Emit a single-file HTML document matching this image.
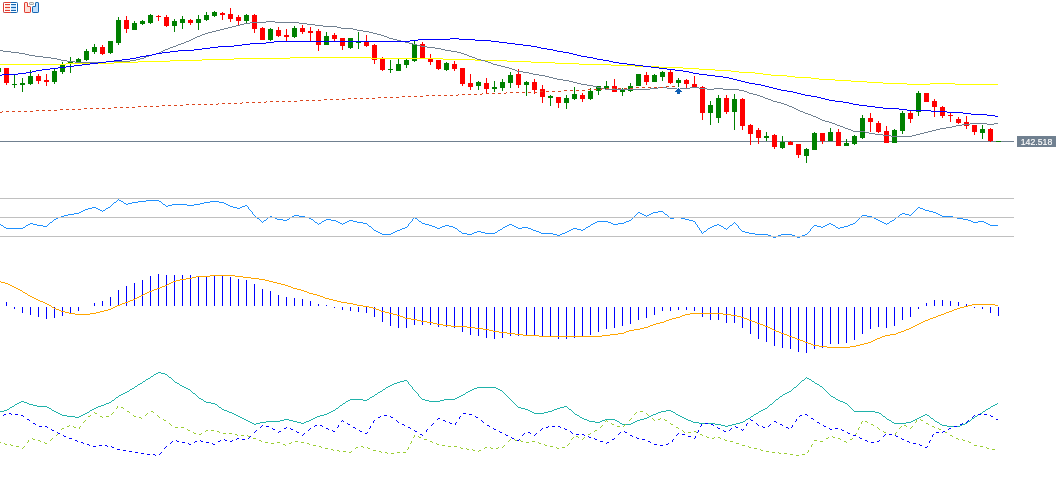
<!DOCTYPE html>
<html><head><meta charset="utf-8"><title>Chart</title>
<style>html,body{margin:0;padding:0;background:#fff;}body{width:1063px;height:485px;overflow:hidden;font-family:"Liberation Sans",sans-serif;}svg{display:block;}</style></head><body>
<svg width="1063" height="485" viewBox="0 0 1063 485">
<rect width="1063" height="485" fill="#fff"/>
<g shape-rendering="crispEdges">
<rect x="0" y="141" width="1014" height="1" fill="#708090"/>
</g>
<g shape-rendering="crispEdges">
<rect x="0" y="68" width="1" height="4" fill="#008000"/>
<rect x="6" y="68" width="1" height="17" fill="#ff0000"/>
<rect x="4" y="68" width="5" height="15" fill="#ff0000"/>
<rect x="14" y="75" width="1" height="13" fill="#008000"/>
<rect x="12" y="84" width="5" height="1" fill="#008000"/>
<rect x="22" y="78" width="1" height="14" fill="#008000"/>
<rect x="20" y="83" width="5" height="2" fill="#008000"/>
<rect x="30" y="70" width="1" height="15" fill="#008000"/>
<rect x="28" y="76" width="5" height="8" fill="#008000"/>
<rect x="38" y="74" width="1" height="10" fill="#ff0000"/>
<rect x="36" y="76" width="5" height="5" fill="#ff0000"/>
<rect x="46" y="74" width="1" height="12" fill="#ff0000"/>
<rect x="44" y="80" width="5" height="2" fill="#ff0000"/>
<rect x="54" y="69" width="1" height="15" fill="#008000"/>
<rect x="52" y="71" width="5" height="11" fill="#008000"/>
<rect x="62" y="62" width="1" height="12" fill="#008000"/>
<rect x="60" y="65" width="5" height="7" fill="#008000"/>
<rect x="70" y="57" width="1" height="16" fill="#008000"/>
<rect x="68" y="61" width="5" height="3" fill="#008000"/>
<rect x="78" y="58" width="1" height="6" fill="#008000"/>
<rect x="76" y="59" width="5" height="3" fill="#008000"/>
<rect x="86" y="49" width="1" height="12" fill="#008000"/>
<rect x="84" y="51" width="5" height="9" fill="#008000"/>
<rect x="94" y="44" width="1" height="10" fill="#008000"/>
<rect x="92" y="47" width="5" height="5" fill="#008000"/>
<rect x="102" y="45" width="1" height="10" fill="#ff0000"/>
<rect x="100" y="47" width="5" height="7" fill="#ff0000"/>
<rect x="110" y="41" width="1" height="13" fill="#008000"/>
<rect x="108" y="41" width="5" height="12" fill="#008000"/>
<rect x="118" y="17" width="1" height="28" fill="#008000"/>
<rect x="116" y="20" width="5" height="23" fill="#008000"/>
<rect x="126" y="16" width="1" height="17" fill="#ff0000"/>
<rect x="124" y="20" width="5" height="9" fill="#ff0000"/>
<rect x="134" y="21" width="1" height="9" fill="#008000"/>
<rect x="132" y="23" width="5" height="7" fill="#008000"/>
<rect x="142" y="20" width="1" height="5" fill="#008000"/>
<rect x="140" y="21" width="5" height="3" fill="#008000"/>
<rect x="150" y="14" width="1" height="10" fill="#008000"/>
<rect x="148" y="15" width="5" height="8" fill="#008000"/>
<rect x="158" y="15" width="1" height="6" fill="#ff0000"/>
<rect x="156" y="16" width="5" height="1" fill="#ff0000"/>
<rect x="166" y="15" width="1" height="12" fill="#ff0000"/>
<rect x="164" y="17" width="5" height="9" fill="#ff0000"/>
<rect x="174" y="19" width="1" height="13" fill="#008000"/>
<rect x="172" y="21" width="5" height="5" fill="#008000"/>
<rect x="182" y="16" width="1" height="13" fill="#008000"/>
<rect x="180" y="19" width="5" height="4" fill="#008000"/>
<rect x="190" y="19" width="1" height="6" fill="#ff0000"/>
<rect x="188" y="20" width="5" height="3" fill="#ff0000"/>
<rect x="198" y="15" width="1" height="15" fill="#008000"/>
<rect x="196" y="19" width="5" height="4" fill="#008000"/>
<rect x="206" y="12" width="1" height="9" fill="#008000"/>
<rect x="204" y="15" width="5" height="5" fill="#008000"/>
<rect x="214" y="11" width="1" height="6" fill="#008000"/>
<rect x="212" y="12" width="5" height="4" fill="#008000"/>
<rect x="222" y="12" width="1" height="8" fill="#ff0000"/>
<rect x="220" y="13" width="5" height="2" fill="#ff0000"/>
<rect x="230" y="8" width="1" height="14" fill="#ff0000"/>
<rect x="228" y="14" width="5" height="5" fill="#ff0000"/>
<rect x="238" y="15" width="1" height="10" fill="#ff0000"/>
<rect x="236" y="17" width="5" height="4" fill="#ff0000"/>
<rect x="246" y="14" width="1" height="9" fill="#008000"/>
<rect x="244" y="15" width="5" height="6" fill="#008000"/>
<rect x="254" y="14" width="1" height="19" fill="#ff0000"/>
<rect x="252" y="15" width="5" height="14" fill="#ff0000"/>
<rect x="262" y="27" width="1" height="13" fill="#ff0000"/>
<rect x="260" y="28" width="5" height="12" fill="#ff0000"/>
<rect x="270" y="28" width="1" height="13" fill="#008000"/>
<rect x="268" y="29" width="5" height="11" fill="#008000"/>
<rect x="278" y="27" width="1" height="10" fill="#ff0000"/>
<rect x="276" y="30" width="5" height="6" fill="#ff0000"/>
<rect x="286" y="29" width="1" height="12" fill="#ff0000"/>
<rect x="284" y="35" width="5" height="2" fill="#ff0000"/>
<rect x="294" y="26" width="1" height="12" fill="#008000"/>
<rect x="292" y="28" width="5" height="9" fill="#008000"/>
<rect x="302" y="25" width="1" height="9" fill="#ff0000"/>
<rect x="300" y="28" width="5" height="4" fill="#ff0000"/>
<rect x="310" y="27" width="1" height="14" fill="#ff0000"/>
<rect x="308" y="31" width="5" height="2" fill="#ff0000"/>
<rect x="318" y="29" width="1" height="22" fill="#ff0000"/>
<rect x="316" y="31" width="5" height="14" fill="#ff0000"/>
<rect x="326" y="32" width="1" height="13" fill="#008000"/>
<rect x="324" y="36" width="5" height="9" fill="#008000"/>
<rect x="334" y="33" width="1" height="8" fill="#ff0000"/>
<rect x="332" y="35" width="5" height="4" fill="#ff0000"/>
<rect x="342" y="38" width="1" height="12" fill="#ff0000"/>
<rect x="340" y="38" width="5" height="8" fill="#ff0000"/>
<rect x="350" y="38" width="1" height="11" fill="#008000"/>
<rect x="348" y="38" width="5" height="10" fill="#008000"/>
<rect x="358" y="32" width="1" height="17" fill="#008000"/>
<rect x="356" y="42" width="5" height="1" fill="#008000"/>
<rect x="366" y="35" width="1" height="12" fill="#ff0000"/>
<rect x="364" y="41" width="5" height="5" fill="#ff0000"/>
<rect x="374" y="44" width="1" height="20" fill="#ff0000"/>
<rect x="372" y="45" width="5" height="15" fill="#ff0000"/>
<rect x="382" y="57" width="1" height="14" fill="#ff0000"/>
<rect x="380" y="59" width="5" height="11" fill="#ff0000"/>
<rect x="390" y="60" width="1" height="13" fill="#008000"/>
<rect x="388" y="69" width="5" height="1" fill="#008000"/>
<rect x="398" y="59" width="1" height="12" fill="#008000"/>
<rect x="396" y="64" width="5" height="7" fill="#008000"/>
<rect x="406" y="59" width="1" height="9" fill="#008000"/>
<rect x="404" y="60" width="5" height="5" fill="#008000"/>
<rect x="414" y="40" width="1" height="22" fill="#008000"/>
<rect x="412" y="44" width="5" height="17" fill="#008000"/>
<rect x="422" y="42" width="1" height="16" fill="#ff0000"/>
<rect x="420" y="44" width="5" height="14" fill="#ff0000"/>
<rect x="430" y="54" width="1" height="11" fill="#ff0000"/>
<rect x="428" y="59" width="5" height="3" fill="#ff0000"/>
<rect x="438" y="60" width="1" height="10" fill="#ff0000"/>
<rect x="436" y="60" width="5" height="9" fill="#ff0000"/>
<rect x="446" y="62" width="1" height="9" fill="#008000"/>
<rect x="444" y="63" width="5" height="7" fill="#008000"/>
<rect x="454" y="61" width="1" height="10" fill="#ff0000"/>
<rect x="452" y="64" width="5" height="5" fill="#ff0000"/>
<rect x="462" y="68" width="1" height="18" fill="#ff0000"/>
<rect x="460" y="68" width="5" height="16" fill="#ff0000"/>
<rect x="470" y="74" width="1" height="16" fill="#ff0000"/>
<rect x="468" y="83" width="5" height="4" fill="#ff0000"/>
<rect x="478" y="81" width="1" height="9" fill="#008000"/>
<rect x="476" y="82" width="5" height="4" fill="#008000"/>
<rect x="486" y="78" width="1" height="16" fill="#ff0000"/>
<rect x="484" y="83" width="5" height="6" fill="#ff0000"/>
<rect x="494" y="81" width="1" height="11" fill="#008000"/>
<rect x="492" y="87" width="5" height="2" fill="#008000"/>
<rect x="502" y="79" width="1" height="12" fill="#008000"/>
<rect x="500" y="82" width="5" height="6" fill="#008000"/>
<rect x="510" y="72" width="1" height="16" fill="#008000"/>
<rect x="508" y="75" width="5" height="8" fill="#008000"/>
<rect x="518" y="69" width="1" height="19" fill="#ff0000"/>
<rect x="516" y="74" width="5" height="11" fill="#ff0000"/>
<rect x="526" y="81" width="1" height="15" fill="#008000"/>
<rect x="524" y="82" width="5" height="3" fill="#008000"/>
<rect x="534" y="79" width="1" height="15" fill="#ff0000"/>
<rect x="532" y="82" width="5" height="8" fill="#ff0000"/>
<rect x="542" y="85" width="1" height="18" fill="#ff0000"/>
<rect x="540" y="89" width="5" height="8" fill="#ff0000"/>
<rect x="550" y="95" width="1" height="11" fill="#008000"/>
<rect x="548" y="96" width="5" height="2" fill="#008000"/>
<rect x="558" y="97" width="1" height="11" fill="#ff0000"/>
<rect x="556" y="97" width="5" height="6" fill="#ff0000"/>
<rect x="566" y="95" width="1" height="14" fill="#008000"/>
<rect x="564" y="98" width="5" height="5" fill="#008000"/>
<rect x="574" y="87" width="1" height="13" fill="#008000"/>
<rect x="572" y="94" width="5" height="5" fill="#008000"/>
<rect x="582" y="93" width="1" height="9" fill="#ff0000"/>
<rect x="580" y="95" width="5" height="4" fill="#ff0000"/>
<rect x="590" y="88" width="1" height="12" fill="#008000"/>
<rect x="588" y="91" width="5" height="8" fill="#008000"/>
<rect x="598" y="86" width="1" height="9" fill="#008000"/>
<rect x="596" y="86" width="5" height="5" fill="#008000"/>
<rect x="606" y="81" width="1" height="8" fill="#008000"/>
<rect x="604" y="86" width="5" height="3" fill="#008000"/>
<rect x="614" y="79" width="1" height="13" fill="#ff0000"/>
<rect x="612" y="86" width="5" height="6" fill="#ff0000"/>
<rect x="622" y="88" width="1" height="8" fill="#008000"/>
<rect x="620" y="90" width="5" height="2" fill="#008000"/>
<rect x="630" y="83" width="1" height="9" fill="#008000"/>
<rect x="628" y="86" width="5" height="5" fill="#008000"/>
<rect x="638" y="74" width="1" height="12" fill="#008000"/>
<rect x="636" y="74" width="5" height="12" fill="#008000"/>
<rect x="646" y="72" width="1" height="13" fill="#ff0000"/>
<rect x="644" y="75" width="5" height="7" fill="#ff0000"/>
<rect x="654" y="74" width="1" height="8" fill="#008000"/>
<rect x="652" y="75" width="5" height="7" fill="#008000"/>
<rect x="662" y="71" width="1" height="10" fill="#008000"/>
<rect x="660" y="72" width="5" height="5" fill="#008000"/>
<rect x="670" y="70" width="1" height="14" fill="#ff0000"/>
<rect x="668" y="72" width="5" height="11" fill="#ff0000"/>
<rect x="678" y="78" width="1" height="9" fill="#008000"/>
<rect x="676" y="80" width="5" height="3" fill="#008000"/>
<rect x="686" y="79" width="1" height="9" fill="#ff0000"/>
<rect x="684" y="80" width="5" height="4" fill="#ff0000"/>
<rect x="694" y="76" width="1" height="11" fill="#ff0000"/>
<rect x="692" y="84" width="5" height="3" fill="#ff0000"/>
<rect x="702" y="86" width="1" height="34" fill="#ff0000"/>
<rect x="700" y="87" width="5" height="26" fill="#ff0000"/>
<rect x="710" y="101" width="1" height="24" fill="#008000"/>
<rect x="708" y="105" width="5" height="8" fill="#008000"/>
<rect x="718" y="95" width="1" height="28" fill="#008000"/>
<rect x="716" y="98" width="5" height="20" fill="#008000"/>
<rect x="726" y="95" width="1" height="19" fill="#ff0000"/>
<rect x="724" y="98" width="5" height="14" fill="#ff0000"/>
<rect x="734" y="94" width="1" height="36" fill="#008000"/>
<rect x="732" y="99" width="5" height="13" fill="#008000"/>
<rect x="742" y="98" width="1" height="32" fill="#ff0000"/>
<rect x="740" y="99" width="5" height="27" fill="#ff0000"/>
<rect x="750" y="124" width="1" height="21" fill="#ff0000"/>
<rect x="748" y="125" width="5" height="9" fill="#ff0000"/>
<rect x="758" y="128" width="1" height="16" fill="#ff0000"/>
<rect x="756" y="130" width="5" height="8" fill="#ff0000"/>
<rect x="766" y="132" width="1" height="9" fill="#008000"/>
<rect x="764" y="136" width="5" height="2" fill="#008000"/>
<rect x="774" y="134" width="1" height="15" fill="#ff0000"/>
<rect x="772" y="135" width="5" height="12" fill="#ff0000"/>
<rect x="782" y="136" width="1" height="13" fill="#008000"/>
<rect x="780" y="142" width="5" height="6" fill="#008000"/>
<rect x="790" y="141" width="1" height="4" fill="#ff0000"/>
<rect x="788" y="142" width="5" height="3" fill="#ff0000"/>
<rect x="798" y="144" width="1" height="14" fill="#ff0000"/>
<rect x="796" y="144" width="5" height="11" fill="#ff0000"/>
<rect x="806" y="148" width="1" height="15" fill="#008000"/>
<rect x="804" y="149" width="5" height="7" fill="#008000"/>
<rect x="814" y="132" width="1" height="18" fill="#008000"/>
<rect x="812" y="133" width="5" height="17" fill="#008000"/>
<rect x="822" y="133" width="1" height="11" fill="#ff0000"/>
<rect x="820" y="133" width="5" height="8" fill="#ff0000"/>
<rect x="830" y="128" width="1" height="13" fill="#008000"/>
<rect x="828" y="132" width="5" height="9" fill="#008000"/>
<rect x="838" y="129" width="1" height="17" fill="#ff0000"/>
<rect x="836" y="132" width="5" height="14" fill="#ff0000"/>
<rect x="846" y="139" width="1" height="7" fill="#008000"/>
<rect x="844" y="143" width="5" height="3" fill="#008000"/>
<rect x="854" y="135" width="1" height="10" fill="#008000"/>
<rect x="852" y="136" width="5" height="8" fill="#008000"/>
<rect x="862" y="115" width="1" height="24" fill="#008000"/>
<rect x="860" y="118" width="5" height="20" fill="#008000"/>
<rect x="870" y="113" width="1" height="19" fill="#ff0000"/>
<rect x="868" y="118" width="5" height="4" fill="#ff0000"/>
<rect x="878" y="121" width="1" height="12" fill="#ff0000"/>
<rect x="876" y="123" width="5" height="9" fill="#ff0000"/>
<rect x="886" y="126" width="1" height="17" fill="#ff0000"/>
<rect x="884" y="131" width="5" height="12" fill="#ff0000"/>
<rect x="894" y="129" width="1" height="14" fill="#008000"/>
<rect x="892" y="130" width="5" height="13" fill="#008000"/>
<rect x="902" y="111" width="1" height="23" fill="#008000"/>
<rect x="900" y="113" width="5" height="18" fill="#008000"/>
<rect x="910" y="111" width="1" height="12" fill="#ff0000"/>
<rect x="908" y="113" width="5" height="6" fill="#ff0000"/>
<rect x="918" y="91" width="1" height="25" fill="#008000"/>
<rect x="916" y="93" width="5" height="19" fill="#008000"/>
<rect x="926" y="93" width="1" height="9" fill="#ff0000"/>
<rect x="924" y="93" width="5" height="9" fill="#ff0000"/>
<rect x="934" y="99" width="1" height="18" fill="#ff0000"/>
<rect x="932" y="101" width="5" height="6" fill="#ff0000"/>
<rect x="942" y="106" width="1" height="12" fill="#ff0000"/>
<rect x="940" y="107" width="5" height="9" fill="#ff0000"/>
<rect x="950" y="113" width="1" height="9" fill="#ff0000"/>
<rect x="948" y="115" width="5" height="1" fill="#ff0000"/>
<rect x="958" y="117" width="1" height="7" fill="#ff0000"/>
<rect x="956" y="119" width="5" height="4" fill="#ff0000"/>
<rect x="966" y="116" width="1" height="13" fill="#ff0000"/>
<rect x="964" y="122" width="5" height="4" fill="#ff0000"/>
<rect x="974" y="125" width="1" height="10" fill="#ff0000"/>
<rect x="972" y="125" width="5" height="7" fill="#ff0000"/>
<rect x="982" y="125" width="1" height="14" fill="#008000"/>
<rect x="980" y="129" width="5" height="4" fill="#008000"/>
<rect x="990" y="128" width="1" height="14" fill="#ff0000"/>
<rect x="988" y="129" width="5" height="12" fill="#ff0000"/>
<rect x="996" y="141" width="5" height="1" fill="#008000"/>
</g>
<path d="M290 57.5h81M234 58.5h56M371 58.5h72M202 59.5h32M443 59.5h32M170 60.5h32M475 60.5h32M138 61.5h32M507 61.5h24M114 62.5h24M531 62.5h24M66 63.5h48M555 63.5h24M0 64.5h66M579 64.5h32M611 65.5h24M635 66.5h24M659 67.5h24M683 68.5h16M699 69.5h16M715 70.5h16M731 71.5h8M739 72.5h16M755 73.5h8M763 74.5h8M771 75.5h16M787 76.5h8M795 77.5h16M811 78.5h8M819 79.5h16M835 80.5h16M851 81.5h16M867 82.5h16M883 83.5h24M930 83.5h25M907 84.5h23M955 84.5h43" fill="none" stroke="#ffff00" stroke-width="1" shape-rendering="crispEdges"/>
<path d="M266 21.5h9M250 22.5h16M275 22.5h24M244 23.5h6M299 23.5h8M240 24.5h4M307 24.5h8M236 25.5h4M315 25.5h8M232 26.5h4M323 26.5h14M228 27.5h4M337 27.5h4M224 28.5h4M341 28.5h12M220 29.5h4M353 29.5h4M216 30.5h4M357 30.5h6M212 31.5h4M363 31.5h6M208 32.5h4M369 32.5h4M205 33.5h3M373 33.5h4M202 34.5h3M377 34.5h4M200 35.5h2M381 35.5h3M197 36.5h3M384 36.5h3M195 37.5h2M387 37.5h2M193 38.5h2M389 38.5h4M191 39.5h2M393 39.5h4M189 40.5h2M397 40.5h4M186 41.5h3M401 41.5h4M184 42.5h2M405 42.5h4M181 43.5h3M409 43.5h4M178 44.5h3M413 44.5h4M176 45.5h2M417 45.5h4M173 46.5h3M421 46.5h6M170 47.5h3M427 47.5h8M168 48.5h2M435 48.5h6M165 49.5h3M441 49.5h4M0 50.5h3M163 50.5h2M445 50.5h6M3 51.5h8M161 51.5h2M451 51.5h6M11 52.5h8M159 52.5h2M457 52.5h4M19 53.5h6M156 53.5h3M461 53.5h3M25 54.5h4M152 54.5h4M464 54.5h3M29 55.5h6M149 55.5h3M467 55.5h2M35 56.5h8M146 56.5h3M469 56.5h3M43 57.5h8M144 57.5h2M472 57.5h3M51 58.5h6M140 58.5h4M475 58.5h2M57 59.5h4M136 59.5h4M477 59.5h4M61 60.5h6M130 60.5h6M481 60.5h4M67 61.5h8M106 61.5h24M485 61.5h3M75 62.5h31M488 62.5h3M491 63.5h2M493 64.5h4M497 65.5h4M501 66.5h4M505 67.5h4M509 68.5h3M512 69.5h3M515 70.5h2M517 71.5h6M523 72.5h6M529 73.5h4M533 74.5h6M539 75.5h6M545 76.5h4M549 77.5h4M553 78.5h4M557 79.5h6M563 80.5h6M569 81.5h4M573 82.5h4M577 83.5h4M581 84.5h6M587 85.5h6M593 86.5h4M597 87.5h4M658 87.5h9M690 87.5h9M601 88.5h4M650 88.5h8M667 88.5h23M699 88.5h8M714 88.5h9M605 89.5h45M707 89.5h7M723 89.5h16M739 90.5h5M744 91.5h3M747 92.5h2M749 93.5h4M753 94.5h4M757 95.5h3M760 96.5h3M763 97.5h2M765 98.5h3M768 99.5h3M771 100.5h2M773 101.5h4M777 102.5h4M781 103.5h3M784 104.5h3M787 105.5h2M789 106.5h3M792 107.5h2M794 108.5h2M796 109.5h2M798 110.5h2M800 111.5h3M803 112.5h2M805 113.5h3M808 114.5h3M811 115.5h2M813 116.5h3M816 117.5h2M818 118.5h2M820 119.5h2M822 120.5h3M825 121.5h4M829 122.5h3M832 123.5h3M970 123.5h17M994 123.5h4M835 124.5h2M962 124.5h8M987 124.5h7M837 125.5h3M956 125.5h6M840 126.5h3M952 126.5h4M843 127.5h2M946 127.5h6M845 128.5h3M940 128.5h6M848 129.5h3M936 129.5h4M851 130.5h2M932 130.5h4M853 131.5h12M928 131.5h4M865 132.5h4M924 132.5h4M869 133.5h6M920 133.5h4M875 134.5h8M916 134.5h4M883 135.5h8M912 135.5h4M891 136.5h21" fill="none" stroke="#708090" stroke-width="1" shape-rendering="crispEdges"/>
<path d="M666 86.5h3M672 86.5h3M636 87.5h3M642 87.5h3M648 87.5h3M654 87.5h3M660 87.5h3M602 88.5h1M606 88.5h3M612 88.5h3M618 88.5h3M624 88.5h3M630 88.5h3M588 89.5h3M594 89.5h3M600 89.5h2M564 90.5h3M570 90.5h3M576 90.5h3M582 90.5h3M540 91.5h3M546 91.5h3M552 91.5h3M558 91.5h3M506 92.5h1M510 92.5h3M516 92.5h3M522 92.5h3M528 92.5h3M534 92.5h3M482 93.5h1M486 93.5h3M492 93.5h3M498 93.5h3M504 93.5h2M458 94.5h1M462 94.5h3M468 94.5h3M474 94.5h3M480 94.5h2M426 95.5h3M432 95.5h3M438 95.5h3M444 95.5h3M450 95.5h3M456 95.5h2M402 96.5h3M408 96.5h3M414 96.5h3M420 96.5h3M378 97.5h3M384 97.5h3M390 97.5h3M396 97.5h3M348 98.5h3M354 98.5h3M360 98.5h3M366 98.5h3M372 98.5h3M324 99.5h3M330 99.5h3M336 99.5h3M342 99.5h3M300 100.5h3M306 100.5h3M312 100.5h3M318 100.5h3M266 101.5h1M270 101.5h3M276 101.5h3M282 101.5h3M288 101.5h3M294 101.5h3M242 102.5h1M246 102.5h3M252 102.5h3M258 102.5h3M264 102.5h2M218 103.5h1M222 103.5h3M228 103.5h3M234 103.5h3M240 103.5h2M186 104.5h3M192 104.5h3M198 104.5h3M204 104.5h3M210 104.5h3M216 104.5h2M162 105.5h3M168 105.5h3M174 105.5h3M180 105.5h3M138 106.5h3M144 106.5h3M150 106.5h3M156 106.5h3M114 107.5h3M120 107.5h3M126 107.5h3M132 107.5h3M84 108.5h3M90 108.5h3M96 108.5h3M102 108.5h3M108 108.5h3M60 109.5h3M66 109.5h3M72 109.5h3M78 109.5h3M36 110.5h3M42 110.5h3M48 110.5h3M54 110.5h3M2 111.5h1M6 111.5h3M12 111.5h3M18 111.5h3M24 111.5h3M30 111.5h3M0 112.5h2" fill="none" stroke="#dc461e" stroke-width="1" shape-rendering="crispEdges"/>
<path d="M450 38.5h9M418 39.5h32M459 39.5h16M410 40.5h8M475 40.5h16M274 41.5h136M491 41.5h8M266 42.5h8M499 42.5h8M250 43.5h16M507 43.5h8M242 44.5h8M515 44.5h8M234 45.5h8M523 45.5h8M218 46.5h16M531 46.5h6M210 47.5h8M537 47.5h4M202 48.5h8M541 48.5h6M194 49.5h8M547 49.5h6M178 50.5h16M553 50.5h4M170 51.5h8M557 51.5h6M162 52.5h8M563 52.5h6M156 53.5h6M569 53.5h4M152 54.5h4M573 54.5h4M146 55.5h6M577 55.5h4M140 56.5h6M581 56.5h6M136 57.5h4M587 57.5h6M130 58.5h6M593 58.5h4M122 59.5h8M597 59.5h6M114 60.5h8M603 60.5h6M106 61.5h8M609 61.5h4M98 62.5h8M613 62.5h6M90 63.5h8M619 63.5h8M82 64.5h8M627 64.5h8M74 65.5h8M635 65.5h8M66 66.5h8M643 66.5h8M58 67.5h8M651 67.5h8M50 68.5h8M659 68.5h8M42 69.5h8M667 69.5h8M36 70.5h6M675 70.5h8M32 71.5h4M683 71.5h6M26 72.5h6M689 72.5h4M18 73.5h8M693 73.5h6M2 74.5h16M699 74.5h8M0 75.5h2M707 75.5h8M715 76.5h8M723 77.5h6M729 78.5h4M733 79.5h4M737 80.5h4M741 81.5h4M745 82.5h4M749 83.5h6M755 84.5h6M761 85.5h4M765 86.5h4M769 87.5h4M773 88.5h4M777 89.5h4M781 90.5h6M787 91.5h6M793 92.5h4M797 93.5h4M801 94.5h4M805 95.5h6M811 96.5h6M817 97.5h4M821 98.5h4M825 99.5h4M829 100.5h6M835 101.5h8M843 102.5h6M849 103.5h4M853 104.5h6M859 105.5h8M867 106.5h8M875 107.5h8M883 108.5h16M899 109.5h8M907 110.5h24M931 111.5h16M947 112.5h16M963 113.5h8M971 114.5h16M987 115.5h8M995 116.5h3" fill="none" stroke="#0000ff" stroke-width="1" shape-rendering="crispEdges"/>
<rect x="677" y="88" width="3" height="1" fill="#fff" shape-rendering="crispEdges"/>
<path d="M678 88h1v1h1v1h1v1h1v1h-2v2h-3v-2h-2v-1h1v-1h1v-1h1z" fill="#0f5fb4" shape-rendering="crispEdges"/>
<rect x="1017" y="136" width="39" height="11" fill="#708090" shape-rendering="crispEdges"/>
<text x="1036.5" y="144.9" font-family="Liberation Sans, sans-serif" font-size="9.8" fill="#fff" stroke="#fff" stroke-width="0.15" text-anchor="middle" textLength="31.5" lengthAdjust="spacingAndGlyphs">142.518</text>
<path d="M118 199.5h1M117 200.5h1M119 200.5h2M146 200.5h13M116 201.5h1M121 201.5h2M138 201.5h8M159 201.5h2M210 201.5h9M114 202.5h2M123 202.5h1M132 202.5h6M161 202.5h1M204 202.5h6M219 202.5h5M113 203.5h1M124 203.5h2M128 203.5h4M162 203.5h1M200 203.5h4M224 203.5h2M112 204.5h1M126 204.5h2M163 204.5h2M172 204.5h15M194 204.5h6M226 204.5h2M111 205.5h1M165 205.5h1M168 205.5h4M187 205.5h7M228 205.5h2M245 205.5h2M110 206.5h1M166 206.5h2M230 206.5h3M242 206.5h3M247 206.5h1M92 207.5h4M108 207.5h2M233 207.5h4M240 207.5h2M248 207.5h1M918 207.5h2M88 208.5h4M96 208.5h2M106 208.5h2M237 208.5h3M248 208.5h1M917 208.5h1M920 208.5h3M85 209.5h3M98 209.5h2M105 209.5h1M249 209.5h1M916 209.5h1M923 209.5h2M83 210.5h2M100 210.5h2M103 210.5h2M250 210.5h1M915 210.5h1M925 210.5h4M81 211.5h2M102 211.5h1M251 211.5h1M658 211.5h5M914 211.5h1M929 211.5h4M79 212.5h2M252 212.5h1M638 212.5h2M653 212.5h5M663 212.5h1M913 212.5h1M933 212.5h3M74 213.5h5M252 213.5h1M637 213.5h1M640 213.5h2M651 213.5h2M664 213.5h1M902 213.5h3M912 213.5h1M936 213.5h2M68 214.5h6M253 214.5h1M636 214.5h1M642 214.5h2M649 214.5h2M665 214.5h2M900 214.5h2M905 214.5h4M911 214.5h1M938 214.5h2M64 215.5h4M254 215.5h1M294 215.5h5M635 215.5h1M644 215.5h2M647 215.5h2M667 215.5h1M862 215.5h5M899 215.5h1M909 215.5h2M940 215.5h2M61 216.5h3M255 216.5h1M270 216.5h2M292 216.5h2M299 216.5h6M634 216.5h1M646 216.5h1M668 216.5h1M861 216.5h1M867 216.5h5M898 216.5h1M942 216.5h11M58 217.5h3M256 217.5h1M268 217.5h2M272 217.5h3M290 217.5h2M305 217.5h4M414 217.5h1M633 217.5h1M669 217.5h1M674 217.5h7M860 217.5h1M872 217.5h2M896 217.5h2M953 217.5h4M56 218.5h2M257 218.5h2M267 218.5h1M275 218.5h2M289 218.5h1M309 218.5h2M413 218.5h1M415 218.5h2M632 218.5h1M670 218.5h4M681 218.5h4M859 218.5h1M874 218.5h2M895 218.5h1M957 218.5h6M54 219.5h2M259 219.5h1M266 219.5h1M277 219.5h6M287 219.5h2M311 219.5h2M326 219.5h5M412 219.5h1M417 219.5h1M631 219.5h1M685 219.5h4M858 219.5h1M876 219.5h2M894 219.5h1M963 219.5h5M53 220.5h1M260 220.5h1M264 220.5h2M283 220.5h4M313 220.5h1M324 220.5h2M331 220.5h5M349 220.5h4M412 220.5h1M418 220.5h1M629 220.5h2M689 220.5h4M857 220.5h1M878 220.5h2M892 220.5h2M968 220.5h3M52 221.5h1M261 221.5h1M263 221.5h1M314 221.5h1M322 221.5h2M336 221.5h2M347 221.5h2M353 221.5h4M411 221.5h1M419 221.5h2M597 221.5h11M626 221.5h3M693 221.5h2M856 221.5h1M880 221.5h2M890 221.5h2M971 221.5h2M978 221.5h6M50 222.5h2M262 222.5h1M315 222.5h2M321 222.5h1M338 222.5h2M345 222.5h2M357 222.5h6M410 222.5h1M421 222.5h1M595 222.5h2M608 222.5h3M624 222.5h2M695 222.5h1M734 222.5h1M855 222.5h1M882 222.5h2M889 222.5h1M973 222.5h5M984 222.5h2M30 223.5h3M49 223.5h1M317 223.5h1M319 223.5h2M340 223.5h2M343 223.5h2M363 223.5h4M409 223.5h1M422 223.5h3M593 223.5h2M611 223.5h2M618 223.5h6M695 223.5h1M733 223.5h1M735 223.5h1M829 223.5h2M853 223.5h2M884 223.5h2M887 223.5h2M986 223.5h2M0 224.5h1M28 224.5h2M33 224.5h4M48 224.5h1M318 224.5h1M342 224.5h1M367 224.5h1M408 224.5h1M425 224.5h4M509 224.5h3M591 224.5h2M613 224.5h5M696 224.5h1M717 224.5h2M732 224.5h1M736 224.5h1M827 224.5h2M831 224.5h2M850 224.5h3M886 224.5h1M988 224.5h2M1 225.5h2M26 225.5h2M37 225.5h6M47 225.5h1M368 225.5h1M408 225.5h1M429 225.5h3M445 225.5h4M507 225.5h2M512 225.5h2M590 225.5h1M697 225.5h1M714 225.5h3M719 225.5h2M730 225.5h2M737 225.5h1M814 225.5h3M825 225.5h2M833 225.5h2M848 225.5h2M990 225.5h8M3 226.5h1M25 226.5h1M43 226.5h4M369 226.5h2M407 226.5h1M432 226.5h3M442 226.5h3M449 226.5h4M505 226.5h2M514 226.5h2M588 226.5h2M697 226.5h1M712 226.5h2M721 226.5h2M729 226.5h1M738 226.5h1M813 226.5h1M817 226.5h4M823 226.5h2M835 226.5h1M844 226.5h4M4 227.5h2M23 227.5h2M371 227.5h1M405 227.5h2M435 227.5h2M440 227.5h2M453 227.5h2M503 227.5h2M516 227.5h2M522 227.5h6M586 227.5h2M698 227.5h1M710 227.5h2M723 227.5h1M728 227.5h1M738 227.5h1M812 227.5h1M821 227.5h2M836 227.5h2M840 227.5h4M6 228.5h17M372 228.5h1M402 228.5h3M437 228.5h3M455 228.5h2M502 228.5h1M518 228.5h4M528 228.5h3M573 228.5h4M585 228.5h1M699 228.5h1M708 228.5h2M724 228.5h2M727 228.5h1M739 228.5h1M811 228.5h1M838 228.5h2M373 229.5h1M400 229.5h2M457 229.5h1M500 229.5h2M531 229.5h2M571 229.5h2M577 229.5h4M583 229.5h2M699 229.5h1M707 229.5h1M726 229.5h1M740 229.5h1M810 229.5h1M374 230.5h2M397 230.5h3M458 230.5h1M498 230.5h2M533 230.5h3M569 230.5h2M581 230.5h2M700 230.5h1M706 230.5h1M741 230.5h1M810 230.5h1M376 231.5h2M395 231.5h2M459 231.5h2M477 231.5h4M497 231.5h1M536 231.5h3M567 231.5h2M701 231.5h1M704 231.5h2M742 231.5h3M809 231.5h1M378 232.5h2M393 232.5h2M461 232.5h1M474 232.5h3M481 232.5h4M495 232.5h2M539 232.5h2M565 232.5h2M701 232.5h1M703 232.5h1M745 232.5h4M808 232.5h1M380 233.5h2M391 233.5h2M462 233.5h5M472 233.5h2M485 233.5h10M541 233.5h12M562 233.5h3M702 233.5h1M749 233.5h6M807 233.5h1M382 234.5h9M467 234.5h5M553 234.5h4M560 234.5h2M755 234.5h13M781 234.5h11M805 234.5h2M557 235.5h3M768 235.5h3M778 235.5h3M792 235.5h3M802 235.5h3M771 236.5h2M776 236.5h2M795 236.5h2M800 236.5h2M773 237.5h3M797 237.5h3" fill="none" stroke="#1e90ff" stroke-width="1" shape-rendering="crispEdges"/>
<g shape-rendering="crispEdges">
<rect x="0" y="198" width="1014" height="1" fill="#c0c0c0"/>
<rect x="0" y="217" width="1014" height="1" fill="#c0c0c0"/>
<rect x="0" y="236" width="1014" height="1" fill="#c0c0c0"/>
</g>
<g shape-rendering="crispEdges" fill="#0000ff">
<rect x="6" y="302" width="1" height="4"/>
<rect x="14" y="307" width="1" height="2"/>
<rect x="22" y="307" width="1" height="6"/>
<rect x="30" y="307" width="1" height="8"/>
<rect x="38" y="307" width="1" height="10"/>
<rect x="46" y="307" width="1" height="12"/>
<rect x="54" y="307" width="1" height="11"/>
<rect x="62" y="307" width="1" height="9"/>
<rect x="70" y="307" width="1" height="6"/>
<rect x="78" y="307" width="1" height="4"/>
<rect x="94" y="303" width="1" height="3"/>
<rect x="102" y="301" width="1" height="5"/>
<rect x="110" y="297" width="1" height="9"/>
<rect x="118" y="290" width="1" height="16"/>
<rect x="126" y="286" width="1" height="20"/>
<rect x="134" y="283" width="1" height="23"/>
<rect x="142" y="280" width="1" height="26"/>
<rect x="150" y="276" width="1" height="30"/>
<rect x="158" y="274" width="1" height="32"/>
<rect x="166" y="275" width="1" height="31"/>
<rect x="174" y="275" width="1" height="31"/>
<rect x="182" y="275" width="1" height="31"/>
<rect x="190" y="275" width="1" height="31"/>
<rect x="198" y="276" width="1" height="30"/>
<rect x="206" y="276" width="1" height="30"/>
<rect x="214" y="275" width="1" height="31"/>
<rect x="222" y="275" width="1" height="31"/>
<rect x="230" y="277" width="1" height="29"/>
<rect x="238" y="279" width="1" height="27"/>
<rect x="246" y="280" width="1" height="26"/>
<rect x="254" y="284" width="1" height="22"/>
<rect x="262" y="289" width="1" height="17"/>
<rect x="270" y="291" width="1" height="15"/>
<rect x="278" y="295" width="1" height="11"/>
<rect x="286" y="297" width="1" height="9"/>
<rect x="294" y="298" width="1" height="8"/>
<rect x="302" y="299" width="1" height="7"/>
<rect x="310" y="301" width="1" height="5"/>
<rect x="318" y="304" width="1" height="2"/>
<rect x="326" y="305" width="1" height="1"/>
<rect x="334" y="307" width="1" height="1"/>
<rect x="342" y="307" width="1" height="3"/>
<rect x="350" y="307" width="1" height="4"/>
<rect x="358" y="307" width="1" height="5"/>
<rect x="366" y="307" width="1" height="6"/>
<rect x="374" y="307" width="1" height="10"/>
<rect x="382" y="307" width="1" height="15"/>
<rect x="390" y="307" width="1" height="19"/>
<rect x="398" y="307" width="1" height="21"/>
<rect x="406" y="307" width="1" height="21"/>
<rect x="414" y="307" width="1" height="18"/>
<rect x="422" y="307" width="1" height="18"/>
<rect x="430" y="307" width="1" height="18"/>
<rect x="438" y="307" width="1" height="20"/>
<rect x="446" y="307" width="1" height="20"/>
<rect x="454" y="307" width="1" height="21"/>
<rect x="462" y="307" width="1" height="25"/>
<rect x="470" y="307" width="1" height="28"/>
<rect x="478" y="307" width="1" height="29"/>
<rect x="486" y="307" width="1" height="31"/>
<rect x="494" y="307" width="1" height="32"/>
<rect x="502" y="307" width="1" height="31"/>
<rect x="510" y="307" width="1" height="29"/>
<rect x="518" y="307" width="1" height="29"/>
<rect x="526" y="307" width="1" height="28"/>
<rect x="534" y="307" width="1" height="28"/>
<rect x="542" y="307" width="1" height="29"/>
<rect x="550" y="307" width="1" height="29"/>
<rect x="558" y="307" width="1" height="32"/>
<rect x="566" y="307" width="1" height="32"/>
<rect x="574" y="307" width="1" height="31"/>
<rect x="582" y="307" width="1" height="29"/>
<rect x="590" y="307" width="1" height="28"/>
<rect x="598" y="307" width="1" height="25"/>
<rect x="606" y="307" width="1" height="22"/>
<rect x="614" y="307" width="1" height="21"/>
<rect x="622" y="307" width="1" height="19"/>
<rect x="630" y="307" width="1" height="17"/>
<rect x="638" y="307" width="1" height="13"/>
<rect x="646" y="307" width="1" height="11"/>
<rect x="654" y="307" width="1" height="8"/>
<rect x="662" y="307" width="1" height="4"/>
<rect x="670" y="307" width="1" height="4"/>
<rect x="678" y="307" width="1" height="3"/>
<rect x="686" y="307" width="1" height="3"/>
<rect x="694" y="307" width="1" height="4"/>
<rect x="702" y="307" width="1" height="10"/>
<rect x="710" y="307" width="1" height="13"/>
<rect x="718" y="307" width="1" height="13"/>
<rect x="726" y="307" width="1" height="16"/>
<rect x="734" y="307" width="1" height="16"/>
<rect x="742" y="307" width="1" height="21"/>
<rect x="750" y="307" width="1" height="27"/>
<rect x="758" y="307" width="1" height="32"/>
<rect x="766" y="307" width="1" height="35"/>
<rect x="774" y="307" width="1" height="39"/>
<rect x="782" y="307" width="1" height="41"/>
<rect x="790" y="307" width="1" height="42"/>
<rect x="798" y="307" width="1" height="45"/>
<rect x="806" y="307" width="1" height="46"/>
<rect x="814" y="307" width="1" height="42"/>
<rect x="822" y="307" width="1" height="41"/>
<rect x="830" y="307" width="1" height="37"/>
<rect x="838" y="307" width="1" height="37"/>
<rect x="846" y="307" width="1" height="36"/>
<rect x="854" y="307" width="1" height="33"/>
<rect x="862" y="307" width="1" height="27"/>
<rect x="870" y="307" width="1" height="22"/>
<rect x="878" y="307" width="1" height="20"/>
<rect x="886" y="307" width="1" height="21"/>
<rect x="894" y="307" width="1" height="19"/>
<rect x="902" y="307" width="1" height="13"/>
<rect x="910" y="307" width="1" height="10"/>
<rect x="918" y="307" width="1" height="2"/>
<rect x="926" y="303" width="1" height="3"/>
<rect x="934" y="300" width="1" height="6"/>
<rect x="942" y="300" width="1" height="6"/>
<rect x="950" y="301" width="1" height="5"/>
<rect x="958" y="302" width="1" height="4"/>
<rect x="966" y="304" width="1" height="2"/>
<rect x="974" y="307" width="1" height="1"/>
<rect x="982" y="307" width="1" height="2"/>
<rect x="990" y="307" width="1" height="6"/>
<rect x="998" y="307" width="1" height="9"/>
</g>
<path d="M210 275.5h25M196 276.5h14M235 276.5h8M192 277.5h4M243 277.5h8M186 278.5h6M251 278.5h8M180 279.5h6M259 279.5h6M176 280.5h4M265 280.5h4M0 281.5h1M173 281.5h3M269 281.5h4M1 282.5h4M171 282.5h2M273 282.5h4M5 283.5h3M169 283.5h2M277 283.5h4M8 284.5h2M167 284.5h2M281 284.5h4M10 285.5h2M165 285.5h2M285 285.5h3M12 286.5h2M162 286.5h3M288 286.5h3M14 287.5h2M160 287.5h2M291 287.5h2M16 288.5h2M157 288.5h3M293 288.5h4M18 289.5h2M154 289.5h3M297 289.5h4M20 290.5h2M152 290.5h2M301 290.5h3M22 291.5h1M149 291.5h3M304 291.5h3M23 292.5h2M147 292.5h2M307 292.5h2M25 293.5h2M145 293.5h2M309 293.5h4M27 294.5h1M143 294.5h2M313 294.5h4M28 295.5h2M141 295.5h2M317 295.5h3M30 296.5h2M139 296.5h2M320 296.5h3M32 297.5h2M137 297.5h2M323 297.5h2M34 298.5h2M135 298.5h2M325 298.5h4M36 299.5h2M133 299.5h2M329 299.5h4M38 300.5h2M130 300.5h3M333 300.5h4M40 301.5h3M128 301.5h2M337 301.5h4M43 302.5h2M125 302.5h3M341 302.5h6M45 303.5h2M122 303.5h3M347 303.5h6M47 304.5h2M120 304.5h2M353 304.5h4M972 304.5h23M49 305.5h2M117 305.5h3M357 305.5h6M968 305.5h4M995 305.5h3M51 306.5h1M115 306.5h2M363 306.5h6M964 306.5h4M52 307.5h2M113 307.5h2M369 307.5h4M960 307.5h4M54 308.5h2M111 308.5h2M373 308.5h3M957 308.5h3M56 309.5h3M108 309.5h3M376 309.5h3M954 309.5h3M59 310.5h2M104 310.5h4M379 310.5h2M952 310.5h2M61 311.5h4M100 311.5h4M381 311.5h4M949 311.5h3M65 312.5h4M96 312.5h4M385 312.5h4M946 312.5h3M69 313.5h6M90 313.5h6M389 313.5h4M690 313.5h33M944 313.5h2M75 314.5h15M393 314.5h4M685 314.5h5M723 314.5h8M941 314.5h3M397 315.5h3M682 315.5h3M731 315.5h6M938 315.5h3M400 316.5h3M680 316.5h2M737 316.5h4M936 316.5h2M403 317.5h2M676 317.5h4M741 317.5h3M933 317.5h3M405 318.5h6M672 318.5h4M744 318.5h3M930 318.5h3M411 319.5h6M669 319.5h3M747 319.5h2M928 319.5h2M417 320.5h4M666 320.5h3M749 320.5h3M925 320.5h3M421 321.5h6M664 321.5h2M752 321.5h3M923 321.5h2M427 322.5h6M660 322.5h4M755 322.5h2M921 322.5h2M433 323.5h4M656 323.5h4M757 323.5h3M919 323.5h2M437 324.5h6M653 324.5h3M760 324.5h3M917 324.5h2M443 325.5h8M650 325.5h3M763 325.5h2M915 325.5h2M451 326.5h16M648 326.5h2M765 326.5h3M913 326.5h2M467 327.5h8M644 327.5h4M768 327.5h2M911 327.5h2M475 328.5h8M640 328.5h4M770 328.5h2M909 328.5h2M483 329.5h6M634 329.5h6M772 329.5h2M906 329.5h3M489 330.5h4M629 330.5h5M774 330.5h2M904 330.5h2M493 331.5h6M626 331.5h3M776 331.5h3M901 331.5h3M499 332.5h8M624 332.5h2M779 332.5h2M898 332.5h3M507 333.5h8M618 333.5h6M781 333.5h3M896 333.5h2M515 334.5h8M610 334.5h8M784 334.5h3M890 334.5h6M523 335.5h16M602 335.5h8M787 335.5h2M885 335.5h5M539 336.5h63M789 336.5h3M882 336.5h3M792 337.5h3M880 337.5h2M795 338.5h2M877 338.5h3M797 339.5h3M875 339.5h2M800 340.5h3M873 340.5h2M803 341.5h2M871 341.5h2M805 342.5h3M868 342.5h3M808 343.5h3M864 343.5h4M811 344.5h2M860 344.5h4M813 345.5h6M856 345.5h4M819 346.5h8M850 346.5h6M827 347.5h23" fill="none" stroke="#ffa500" stroke-width="1" shape-rendering="crispEdges"/>
<path d="M158 372.5h3M156 373.5h2M161 373.5h4M154 374.5h2M165 374.5h2M153 375.5h1M167 375.5h1M151 376.5h2M168 376.5h1M150 377.5h1M169 377.5h2M806 377.5h1M148 378.5h2M171 378.5h1M805 378.5h1M807 378.5h2M146 379.5h2M172 379.5h1M804 379.5h1M809 379.5h2M145 380.5h1M173 380.5h1M404 380.5h3M802 380.5h2M811 380.5h1M143 381.5h2M174 381.5h1M400 381.5h4M407 381.5h1M801 381.5h1M812 381.5h2M142 382.5h1M175 382.5h2M397 382.5h3M408 382.5h1M800 382.5h1M814 382.5h1M140 383.5h2M177 383.5h2M394 383.5h3M408 383.5h1M799 383.5h1M815 383.5h2M138 384.5h2M179 384.5h1M392 384.5h2M409 384.5h1M798 384.5h1M817 384.5h2M137 385.5h1M180 385.5h2M390 385.5h2M410 385.5h1M797 385.5h1M819 385.5h1M135 386.5h2M182 386.5h2M388 386.5h2M411 386.5h1M796 386.5h1M820 386.5h2M134 387.5h1M184 387.5h2M386 387.5h2M412 387.5h1M477 387.5h19M794 387.5h2M822 387.5h1M132 388.5h2M186 388.5h2M385 388.5h1M412 388.5h1M474 388.5h3M496 388.5h2M793 388.5h1M823 388.5h1M130 389.5h2M188 389.5h2M383 389.5h2M413 389.5h1M472 389.5h2M498 389.5h2M792 389.5h1M824 389.5h1M129 390.5h1M190 390.5h1M382 390.5h1M414 390.5h1M470 390.5h2M500 390.5h2M791 390.5h1M825 390.5h1M127 391.5h2M191 391.5h1M380 391.5h2M415 391.5h1M468 391.5h2M502 391.5h1M789 391.5h2M826 391.5h1M125 392.5h2M192 392.5h1M378 392.5h2M416 392.5h1M466 392.5h2M503 392.5h1M787 392.5h2M827 392.5h1M123 393.5h2M193 393.5h2M377 393.5h1M417 393.5h1M465 393.5h1M504 393.5h1M785 393.5h2M828 393.5h1M121 394.5h2M195 394.5h1M375 394.5h2M418 394.5h1M463 394.5h2M505 394.5h1M783 394.5h2M829 394.5h1M119 395.5h2M196 395.5h1M374 395.5h1M418 395.5h1M461 395.5h2M506 395.5h1M782 395.5h1M830 395.5h1M118 396.5h1M197 396.5h1M372 396.5h2M419 396.5h1M459 396.5h2M507 396.5h1M780 396.5h2M831 396.5h2M116 397.5h2M198 397.5h1M370 397.5h2M420 397.5h1M457 397.5h2M508 397.5h1M779 397.5h1M833 397.5h2M115 398.5h1M199 398.5h2M369 398.5h1M421 398.5h1M455 398.5h2M509 398.5h1M778 398.5h1M835 398.5h1M114 399.5h1M201 399.5h2M350 399.5h13M367 399.5h2M422 399.5h3M444 399.5h11M510 399.5h1M776 399.5h2M836 399.5h2M112 400.5h2M203 400.5h1M348 400.5h2M363 400.5h4M425 400.5h4M440 400.5h4M511 400.5h1M775 400.5h1M838 400.5h2M21 401.5h3M111 401.5h1M204 401.5h2M346 401.5h2M429 401.5h11M512 401.5h1M774 401.5h1M840 401.5h3M19 402.5h2M24 402.5h3M109 402.5h2M206 402.5h5M345 402.5h1M513 402.5h1M773 402.5h1M843 402.5h2M17 403.5h2M27 403.5h2M106 403.5h3M211 403.5h4M343 403.5h2M514 403.5h1M772 403.5h1M845 403.5h2M997 403.5h1M15 404.5h2M29 404.5h4M104 404.5h2M215 404.5h2M342 404.5h1M515 404.5h1M770 404.5h2M847 404.5h1M995 404.5h2M14 405.5h1M33 405.5h4M101 405.5h3M217 405.5h1M340 405.5h2M516 405.5h1M769 405.5h1M848 405.5h1M993 405.5h2M12 406.5h2M37 406.5h10M98 406.5h3M218 406.5h1M339 406.5h1M517 406.5h1M564 406.5h3M768 406.5h1M849 406.5h1M991 406.5h2M10 407.5h2M47 407.5h2M96 407.5h2M219 407.5h2M338 407.5h1M518 407.5h3M560 407.5h4M567 407.5h1M767 407.5h1M850 407.5h1M990 407.5h1M9 408.5h1M49 408.5h2M94 408.5h2M221 408.5h1M336 408.5h2M521 408.5h4M557 408.5h3M568 408.5h1M765 408.5h2M851 408.5h1M988 408.5h2M7 409.5h2M51 409.5h1M92 409.5h2M222 409.5h2M335 409.5h1M525 409.5h3M554 409.5h3M569 409.5h2M763 409.5h2M852 409.5h1M986 409.5h2M4 410.5h3M52 410.5h2M90 410.5h2M224 410.5h3M333 410.5h2M528 410.5h2M552 410.5h2M571 410.5h1M666 410.5h5M761 410.5h2M853 410.5h1M985 410.5h1M0 411.5h4M54 411.5h2M89 411.5h1M227 411.5h2M331 411.5h2M530 411.5h2M548 411.5h4M572 411.5h1M661 411.5h5M671 411.5h2M759 411.5h2M854 411.5h21M983 411.5h2M56 412.5h2M87 412.5h2M229 412.5h3M329 412.5h2M532 412.5h2M544 412.5h4M573 412.5h1M658 412.5h3M673 412.5h2M758 412.5h1M875 412.5h4M982 412.5h1M58 413.5h2M85 413.5h2M232 413.5h2M327 413.5h2M534 413.5h10M574 413.5h1M656 413.5h2M675 413.5h1M756 413.5h2M879 413.5h2M980 413.5h2M60 414.5h2M83 414.5h2M234 414.5h2M324 414.5h3M575 414.5h2M653 414.5h3M676 414.5h2M754 414.5h2M881 414.5h1M925 414.5h2M978 414.5h2M62 415.5h5M81 415.5h2M236 415.5h2M320 415.5h4M577 415.5h2M651 415.5h2M678 415.5h2M753 415.5h1M882 415.5h1M923 415.5h2M927 415.5h2M977 415.5h1M67 416.5h8M79 416.5h2M238 416.5h2M317 416.5h3M579 416.5h1M649 416.5h2M680 416.5h2M751 416.5h2M883 416.5h2M921 416.5h2M929 416.5h1M975 416.5h2M75 417.5h4M240 417.5h2M315 417.5h2M580 417.5h2M647 417.5h2M682 417.5h2M750 417.5h1M885 417.5h1M919 417.5h2M930 417.5h1M974 417.5h1M242 418.5h2M313 418.5h2M582 418.5h2M644 418.5h3M684 418.5h2M748 418.5h2M886 418.5h1M917 418.5h2M931 418.5h2M972 418.5h2M244 419.5h2M284 419.5h5M311 419.5h2M584 419.5h3M605 419.5h10M640 419.5h4M686 419.5h2M746 419.5h2M887 419.5h2M915 419.5h2M933 419.5h1M971 419.5h1M246 420.5h2M280 420.5h4M289 420.5h4M309 420.5h2M587 420.5h2M602 420.5h3M615 420.5h2M637 420.5h3M688 420.5h3M745 420.5h1M889 420.5h2M913 420.5h2M934 420.5h1M970 420.5h1M248 421.5h2M266 421.5h14M293 421.5h4M306 421.5h3M589 421.5h6M600 421.5h2M617 421.5h2M635 421.5h2M691 421.5h2M743 421.5h2M891 421.5h1M911 421.5h2M935 421.5h2M968 421.5h2M250 422.5h2M260 422.5h6M297 422.5h4M304 422.5h2M595 422.5h5M619 422.5h1M633 422.5h2M693 422.5h6M740 422.5h3M892 422.5h2M906 422.5h5M937 422.5h2M967 422.5h1M252 423.5h2M256 423.5h4M301 423.5h3M620 423.5h2M631 423.5h2M699 423.5h16M736 423.5h4M894 423.5h12M939 423.5h1M965 423.5h2M254 424.5h2M622 424.5h9M715 424.5h6M732 424.5h4M940 424.5h2M962 424.5h3M721 425.5h4M728 425.5h4M942 425.5h5M960 425.5h2M725 426.5h3M947 426.5h13" fill="none" stroke="#20b2aa" stroke-width="1" shape-rendering="crispEdges"/>
<path d="M117 406.5h1M117 407.5h1M121 407.5h2M116 408.5h1M123 408.5h1M127 411.5h2M151 411.5h2M640 411.5h3M94 412.5h1M113 412.5h1M129 412.5h1M153 412.5h1M636 412.5h1M95 413.5h2M112 413.5h1M147 413.5h1M635 413.5h1M646 413.5h1M111 414.5h1M146 414.5h1M634 414.5h1M647 414.5h1M90 415.5h1M133 415.5h1M145 415.5h1M157 415.5h1M648 415.5h1M88 416.5h2M100 416.5h2M106 416.5h3M134 416.5h2M158 416.5h1M102 417.5h1M139 417.5h2M159 417.5h1M141 418.5h1M631 418.5h1M652 418.5h1M660 418.5h1M163 419.5h1M630 419.5h1M653 419.5h1M658 419.5h2M664 419.5h1M920 419.5h1M85 420.5h1M164 420.5h2M606 420.5h1M629 420.5h1M654 420.5h1M665 420.5h2M916 420.5h1M921 420.5h2M84 421.5h1M605 421.5h1M607 421.5h1M862 421.5h1M865 421.5h2M916 421.5h1M83 422.5h1M861 422.5h1M867 422.5h1M915 422.5h1M169 423.5h1M611 423.5h1M670 423.5h1M861 423.5h1M926 423.5h2M170 424.5h1M612 424.5h2M625 424.5h1M671 424.5h2M871 424.5h2M928 424.5h1M69 425.5h1M171 425.5h1M602 425.5h1M624 425.5h1M873 425.5h1M904 425.5h2M67 426.5h2M73 426.5h1M80 426.5h1M601 426.5h1M617 426.5h3M623 426.5h1M901 426.5h1M906 426.5h1M912 426.5h1M932 426.5h2M74 427.5h2M79 427.5h1M175 427.5h3M181 427.5h3M600 427.5h1M676 427.5h2M859 427.5h1M877 427.5h1M900 427.5h1M911 427.5h1M934 427.5h1M62 428.5h2M79 428.5h1M678 428.5h1M858 428.5h1M878 428.5h1M899 428.5h1M910 428.5h1M938 428.5h1M61 429.5h1M187 429.5h1M858 429.5h1M879 429.5h1M939 429.5h2M188 430.5h2M206 430.5h2M211 430.5h3M595 430.5h2M682 430.5h1M205 431.5h1M217 431.5h2M594 431.5h1M683 431.5h1M694 431.5h2M883 431.5h1M944 431.5h1M193 432.5h1M219 432.5h1M684 432.5h1M688 432.5h3M696 432.5h1M884 432.5h2M896 432.5h1M945 432.5h2M58 433.5h1M194 433.5h2M201 433.5h1M223 433.5h3M229 433.5h3M590 433.5h1M856 433.5h1M895 433.5h1M57 434.5h1M199 434.5h2M235 434.5h2M588 434.5h2M700 434.5h2M855 434.5h1M889 434.5h3M895 434.5h1M56 435.5h1M237 435.5h1M241 435.5h3M247 435.5h1M414 435.5h1M702 435.5h1M855 435.5h1M950 435.5h2M248 436.5h2M414 436.5h1M418 436.5h1M576 436.5h2M706 436.5h1M832 436.5h1M952 436.5h1M413 437.5h1M419 437.5h2M573 437.5h1M578 437.5h1M584 437.5h1M707 437.5h2M714 437.5h1M718 437.5h2M828 437.5h1M833 437.5h2M32 438.5h1M52 438.5h1M253 438.5h3M572 438.5h1M583 438.5h1M712 438.5h2M720 438.5h1M826 438.5h2M838 438.5h2M852 438.5h1M956 438.5h2M33 439.5h2M51 439.5h1M424 439.5h3M510 439.5h1M514 439.5h1M571 439.5h1M582 439.5h1M724 439.5h1M840 439.5h1M850 439.5h2M958 439.5h1M962 439.5h1M28 440.5h1M38 440.5h2M50 440.5h1M259 440.5h2M509 440.5h1M515 440.5h2M520 440.5h1M725 440.5h2M814 440.5h3M963 440.5h2M28 441.5h1M40 441.5h1M261 441.5h1M295 441.5h3M411 441.5h1M430 441.5h2M508 441.5h1M521 441.5h2M532 441.5h3M730 441.5h3M820 441.5h3M844 441.5h2M968 441.5h1M0 442.5h1M27 442.5h1M44 442.5h1M265 442.5h3M277 442.5h3M291 442.5h1M301 442.5h3M411 442.5h1M432 442.5h1M526 442.5h3M538 442.5h1M846 442.5h1M969 442.5h2M4 443.5h1M45 443.5h2M271 443.5h3M289 443.5h2M307 443.5h2M410 443.5h1M436 443.5h1M539 443.5h2M569 443.5h1M736 443.5h3M5 444.5h2M10 444.5h1M283 444.5h2M309 444.5h1M437 444.5h2M544 444.5h1M568 444.5h1M812 444.5h1M11 445.5h2M285 445.5h1M313 445.5h3M442 445.5h3M504 445.5h1M545 445.5h2M567 445.5h1M742 445.5h3M811 445.5h1M974 445.5h3M16 446.5h3M24 446.5h1M319 446.5h2M361 446.5h2M448 446.5h3M454 446.5h3M503 446.5h1M550 446.5h3M748 446.5h1M811 446.5h1M980 446.5h3M23 447.5h1M321 447.5h1M356 447.5h2M363 447.5h1M367 447.5h1M408 447.5h1M460 447.5h1M485 447.5h2M490 447.5h1M498 447.5h1M502 447.5h1M556 447.5h1M562 447.5h3M749 447.5h2M986 447.5h1M22 448.5h1M325 448.5h3M355 448.5h1M368 448.5h2M408 448.5h1M461 448.5h2M466 448.5h1M484 448.5h1M491 448.5h2M496 448.5h2M557 448.5h2M754 448.5h3M987 448.5h2M331 449.5h2M407 449.5h1M467 449.5h2M472 449.5h1M760 449.5h1M992 449.5h3M333 450.5h1M337 450.5h2M373 450.5h3M473 450.5h2M479 450.5h2M761 450.5h2M808 450.5h1M339 451.5h1M343 451.5h3M351 451.5h1M379 451.5h2M478 451.5h1M766 451.5h3M808 451.5h1M349 452.5h2M381 452.5h1M385 452.5h2M397 452.5h3M403 452.5h3M772 452.5h3M778 452.5h1M807 452.5h1M387 453.5h1M391 453.5h3M779 453.5h2M784 453.5h3M790 454.5h3M802 454.5h3M796 455.5h3" fill="none" stroke="#9acd32" stroke-width="1" shape-rendering="crispEdges"/>
<path d="M9 413.5h2M463 413.5h3M4 414.5h2M11 414.5h1M15 414.5h3M469 414.5h3M805 414.5h2M978 414.5h3M984 414.5h3M3 415.5h1M21 415.5h2M384 415.5h3M800 415.5h2M807 415.5h1M974 415.5h1M990 415.5h1M23 416.5h1M380 416.5h1M390 416.5h1M460 416.5h1M475 416.5h1M799 416.5h1M973 416.5h1M991 416.5h2M378 417.5h2M391 417.5h2M459 417.5h1M476 417.5h2M972 417.5h1M438 418.5h2M459 418.5h1M811 418.5h2M27 419.5h2M437 419.5h1M750 419.5h1M796 419.5h1M813 419.5h1M996 419.5h2M29 420.5h1M342 420.5h1M374 420.5h1M396 420.5h1M443 420.5h2M481 420.5h1M751 420.5h2M796 420.5h1M968 420.5h1M341 421.5h1M343 421.5h1M373 421.5h1M397 421.5h1M445 421.5h1M482 421.5h1M774 421.5h2M795 421.5h1M967 421.5h1M373 422.5h1M398 422.5h1M449 422.5h1M456 422.5h1M483 422.5h1M776 422.5h1M817 422.5h2M966 422.5h1M33 423.5h2M347 423.5h1M433 423.5h1M450 423.5h2M455 423.5h1M705 423.5h3M747 423.5h1M756 423.5h1M819 423.5h1M962 423.5h1M35 424.5h1M348 424.5h2M402 424.5h2M432 424.5h1M455 424.5h1M701 424.5h1M711 424.5h2M746 424.5h1M757 424.5h1M770 424.5h1M780 424.5h2M960 424.5h2M262 425.5h1M315 425.5h2M320 425.5h2M338 425.5h1M404 425.5h1M431 425.5h1M487 425.5h2M701 425.5h1M713 425.5h1M746 425.5h1M758 425.5h1M769 425.5h1M782 425.5h1M792 425.5h1M823 425.5h1M39 426.5h3M45 426.5h2M261 426.5h1M266 426.5h3M314 426.5h1M322 426.5h1M338 426.5h1M370 426.5h1M489 426.5h1M548 426.5h1M552 426.5h3M558 426.5h2M700 426.5h1M735 426.5h1M762 426.5h1M768 426.5h1M792 426.5h1M824 426.5h2M954 426.5h3M47 427.5h1M260 427.5h1M286 427.5h1M337 427.5h1M353 427.5h2M370 427.5h1M408 427.5h2M546 427.5h2M560 427.5h1M717 427.5h1M736 427.5h2M763 427.5h2M786 427.5h2M791 427.5h1M272 428.5h1M284 428.5h2M290 428.5h1M310 428.5h1M326 428.5h2M355 428.5h1M369 428.5h1M410 428.5h1M493 428.5h1M542 428.5h1M564 428.5h1M718 428.5h2M731 428.5h1M788 428.5h1M829 428.5h1M835 428.5h3M949 428.5h2M51 429.5h1M273 429.5h2M291 429.5h2M309 429.5h1M328 429.5h1M427 429.5h1M494 429.5h2M541 429.5h1M565 429.5h2M730 429.5h1M741 429.5h1M743 429.5h1M830 429.5h2M841 429.5h1M948 429.5h1M52 430.5h2M256 430.5h1M308 430.5h1M332 430.5h1M359 430.5h1M414 430.5h1M426 430.5h1M540 430.5h1M698 430.5h1M723 430.5h1M729 430.5h1M742 430.5h1M842 430.5h2M255 431.5h1M279 431.5h2M296 431.5h1M333 431.5h2M360 431.5h2M415 431.5h2M426 431.5h1M499 431.5h1M570 431.5h1M624 431.5h1M698 431.5h1M724 431.5h2M943 431.5h2M57 432.5h1M254 432.5h1M278 432.5h1M297 432.5h2M367 432.5h1M500 432.5h2M528 432.5h2M571 432.5h1M620 432.5h1M625 432.5h2M697 432.5h1M847 432.5h1M936 432.5h3M942 432.5h1M58 433.5h2M304 433.5h1M365 433.5h2M524 433.5h1M530 433.5h1M536 433.5h1M572 433.5h1M619 433.5h1M678 433.5h1M848 433.5h2M303 434.5h1M420 434.5h2M505 434.5h1M523 434.5h1M535 434.5h1M576 434.5h3M582 434.5h2M618 434.5h1M677 434.5h1M682 434.5h3M885 434.5h1M889 434.5h3M933 434.5h1M63 435.5h1M302 435.5h1M422 435.5h1M506 435.5h2M522 435.5h1M534 435.5h1M584 435.5h1M630 435.5h2M676 435.5h1M853 435.5h3M884 435.5h1M895 435.5h1M932 435.5h1M64 436.5h2M250 436.5h1M588 436.5h1M632 436.5h1M688 436.5h3M695 436.5h1M883 436.5h1M896 436.5h2M932 436.5h1M249 437.5h1M511 437.5h1M589 437.5h2M636 437.5h1M695 437.5h1M859 437.5h1M69 438.5h3M237 438.5h2M248 438.5h1M512 438.5h2M594 438.5h1M614 438.5h1M637 438.5h2M694 438.5h1M860 438.5h2M901 438.5h1M224 439.5h1M236 439.5h1M242 439.5h3M519 439.5h1M595 439.5h2M612 439.5h2M642 439.5h3M673 439.5h1M902 439.5h2M75 440.5h2M176 440.5h1M200 440.5h1M220 440.5h1M225 440.5h2M232 440.5h1M517 440.5h2M672 440.5h1M865 440.5h2M879 440.5h1M930 440.5h1M77 441.5h1M172 441.5h1M177 441.5h2M195 441.5h2M201 441.5h2M218 441.5h2M230 441.5h2M600 441.5h3M648 441.5h2M672 441.5h1M867 441.5h1M877 441.5h2M907 441.5h2M929 441.5h1M81 442.5h2M171 442.5h1M182 442.5h3M194 442.5h1M206 442.5h3M607 442.5h2M650 442.5h1M871 442.5h3M909 442.5h1M929 442.5h1M83 443.5h1M170 443.5h1M188 443.5h1M212 443.5h1M606 443.5h1M668 443.5h1M913 443.5h3M87 444.5h2M189 444.5h2M213 444.5h2M654 444.5h3M666 444.5h2M919 444.5h1M89 445.5h1M99 445.5h3M105 445.5h2M660 445.5h3M920 445.5h2M93 446.5h3M107 446.5h1M111 446.5h1M166 446.5h1M927 446.5h1M112 447.5h2M165 447.5h1M925 447.5h2M164 448.5h1M117 449.5h3M123 450.5h3M129 451.5h3M135 452.5h3M161 452.5h1M141 453.5h3M160 453.5h1M147 454.5h3M153 454.5h2M159 454.5h1M155 455.5h1" fill="none" stroke="#0000ff" stroke-width="1" shape-rendering="crispEdges"/>
<g>
<rect x="3.5" y="2.5" width="14" height="10" rx="1" fill="#fff" stroke="#1565b0"/>
<path d="M10.5 2.5 H4.5 A1 1 0 0 0 3.5 3.5 V11.5 A1 1 0 0 0 4.5 12.5 H10.5" fill="#fff" stroke="#e03c31"/>
<rect x="5" y="5" width="5" height="5" fill="#fde4dc"/>
<rect x="11" y="5" width="5" height="5" fill="#c8e4ff"/>
<g shape-rendering="crispEdges">
<rect x="5" y="4" width="5" height="1" fill="#e03c31"/><rect x="5" y="7" width="5" height="1" fill="#e03c31"/><rect x="5" y="10" width="5" height="1" fill="#e03c31"/>
<rect x="11" y="4" width="5" height="1" fill="#1565b0"/><rect x="11" y="7" width="5" height="1" fill="#1565b0"/><rect x="11" y="10" width="5" height="1" fill="#1565b0"/>
</g>
<path d="M24.5 3.1 A0.6 0.6 0 0 1 25.1 2.5 H26.9 A0.6 0.6 0 0 1 27.5 3.1 V6.5 H29.9 A0.6 0.6 0 0 1 30.5 7.1 V11.9 A0.6 0.6 0 0 1 29.9 12.5 H25.1 A0.6 0.6 0 0 1 24.5 11.9 Z" fill="#fde0d8" stroke="#e03c31"/>
<path d="M38.5 3.1 A0.6 0.6 0 0 0 37.9 2.5 H36.1 A0.6 0.6 0 0 0 35.5 3.1 V6.5 H33.1 A0.6 0.6 0 0 0 32.5 7.1 V11.9 A0.6 0.6 0 0 0 33.1 12.5 H37.9 A0.6 0.6 0 0 0 38.5 11.9 Z" fill="#c0e0ff" stroke="#1565b0"/>
<rect x="29.5" y="2.5" width="4" height="2" rx="0.6" fill="#f0f0f0" stroke="#a0a0a0"/>
</g>
</svg></body></html>
